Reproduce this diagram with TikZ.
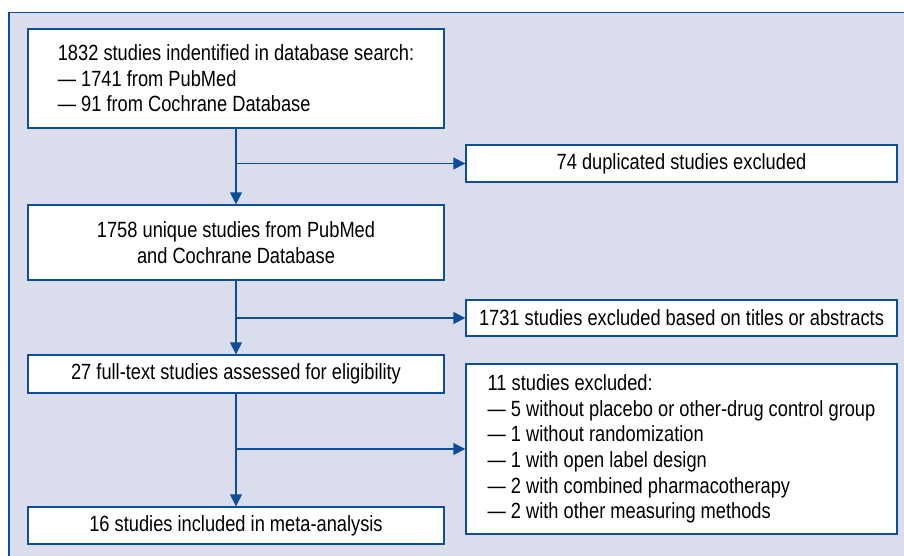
\documentclass[tikz,border=0pt]{standalone}
\usepackage{fontspec}
\setmainfont[FakeStretch=0.83]{Liberation Sans}
\usetikzlibrary{arrows.meta}
\definecolor{flowblue}{RGB}{14,76,156}
\definecolor{flowbg}{RGB}{218,222,236}

\begin{document}
\begin{tikzpicture}[x=1pt,y=-1pt,
    box/.style={draw=flowblue,line width=1.4pt,fill=white,inner sep=0pt,
      minimum width=416pt,font=\fontsize{22}{25.6}\selectfont},
    xbox/.style={box,minimum width=431pt},
    arr/.style={flowblue,line width=1.4pt,-{Triangle[length=12pt,width=12pt]}}]
  \useasboundingbox (0,0) rectangle (904,556);
  \clip (0,0) rectangle (904,556);
  % shaded panel, open to the right and bottom
  \draw[flowblue,line width=1.5pt,fill=flowbg] (9,12.5) rectangle (920,570);
  % main column
  \node[box,minimum height=99pt,align=left] (ident) at (236,78.5)
    {1832 studies indentified in database search:\\
     — 1741 from PubMed\\
     — 91 from Cochrane Database};
  \node[box,minimum height=75pt,align=center] (uniq) at (236,242.5)
    {1758 unique studies from PubMed\\and Cochrane Database};
  \node[box,minimum height=38pt] (full) at (236,374)
    {27 full-text studies assessed for eligibility};
  \node[box,minimum height=37pt] (incl) at (236,525.5)
    {16 studies included in meta-analysis};
  % exclusions
  \node[xbox,minimum height=37pt] (dup) at (681.5,163.5)
    {74 duplicated studies excluded};
  \node[xbox,minimum height=36pt] (titl) at (681.5,318)
    {1731 studies excluded based on titles or abstracts};
  \node[xbox,minimum height=170pt,align=left] (excl) at (681.5,449)
    {11 studies excluded:\\
     — 5 without placebo or other-drug control group\\
     — 1 without randomization\\
     — 1 with open label design\\
     — 2 with combined pharmacotherapy\\
     — 2 with other measuring methods};
  % arrows
  \draw[arr] (ident) -- (uniq);
  \draw[arr] (uniq) -- (full);
  \draw[arr] (full) -- (incl);
  \draw[arr] (ident.south |- dup.west) -- (dup.west);
  \draw[arr] (uniq.south |- titl.west) -- (titl.west);
  \draw[arr] (full.south |- excl.west) -- (excl.west);
\end{tikzpicture}
\end{document}
